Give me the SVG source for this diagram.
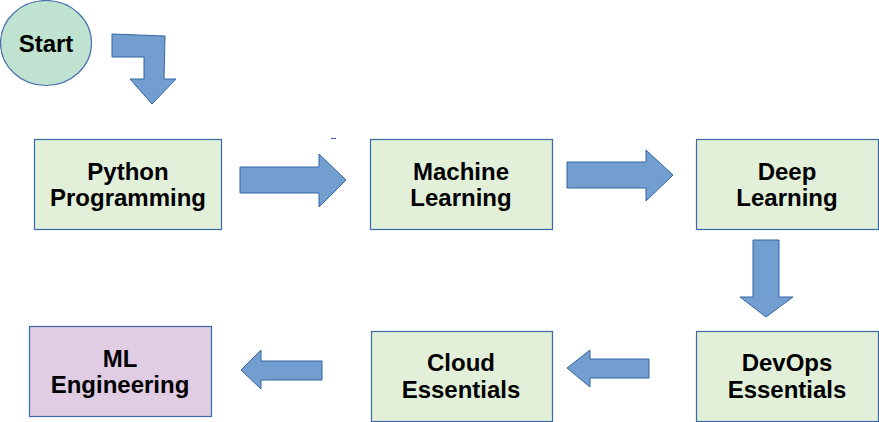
<svg xmlns="http://www.w3.org/2000/svg" width="879" height="422" viewBox="0 0 879 422">
<style>
.box{fill:#e2efd9;stroke:#3a6aa8;stroke-width:1.2}
.ml{fill:#e1cde3;stroke:#3a6aa8;stroke-width:1.2}
.start{fill:#bfe3d0;stroke:#4a72b0;stroke-width:1.2}
.arr{fill:#729fcf;stroke:#3465a4;stroke-width:1}
text{font-family:"Liberation Sans",Arial,sans-serif;font-weight:bold;font-size:24px;fill:#000;text-anchor:middle}
</style>
<rect width="879" height="422" fill="#fff"/>
<g id="connectors">
<polygon class="arr" points="112,34 165,36 164,79 176,79 152,104 130,79 144,79 144,57 112,57"/>
<polygon class="arr" points="240,167 319,167 319,154 346,180 319,207 319,193 240,193"/>
<polygon class="arr" points="567,162 646,162 646,150 673,175 646,201 646,188 567,188"/>
<polygon class="arr" points="753,240 779,240 779,297 793,297 766,317 740,297 753,297"/>
<polygon class="arr" points="649,359 590,359 590,350 567,368 590,387 590,378 649,378"/>
<polygon class="arr" points="322,361 261,361 261,350 241,370 261,389 261,380 322,380"/>
<line x1="331" y1="138.5" x2="336" y2="138.5" stroke="#3465a4" stroke-width="1"/>
</g>
<g id="start">
<ellipse class="start" cx="46" cy="43" rx="45.5" ry="42.5"/>
<text x="46" y="52">Start</text>
</g>
<g id="python">
<rect class="box" x="34.5" y="139.5" width="187" height="90"/>
<text x="128" y="180">Python</text>
<text x="128" y="206">Programming</text>
</g>
<g id="machine">
<rect class="box" x="370.5" y="139.5" width="182" height="90"/>
<text x="461" y="180">Machine</text>
<text x="461" y="206">Learning</text>
</g>
<g id="deep">
<rect class="box" x="696.5" y="139.5" width="182" height="90"/>
<text x="787" y="180">Deep</text>
<text x="787" y="206">Learning</text>
</g>
<g id="devops">
<rect class="box" x="696.5" y="331.5" width="182" height="90"/>
<text x="787" y="371">DevOps</text>
<text x="787" y="398">Essentials</text>
</g>
<g id="cloud">
<rect class="box" x="371.5" y="331.5" width="181" height="90"/>
<text x="461" y="371">Cloud</text>
<text x="461" y="398">Essentials</text>
</g>
<g id="mleng">
<rect class="ml" x="29.5" y="326.5" width="182" height="90"/>
<text x="120" y="367">ML</text>
<text x="120" y="393">Engineering</text>
</g>
</svg>
